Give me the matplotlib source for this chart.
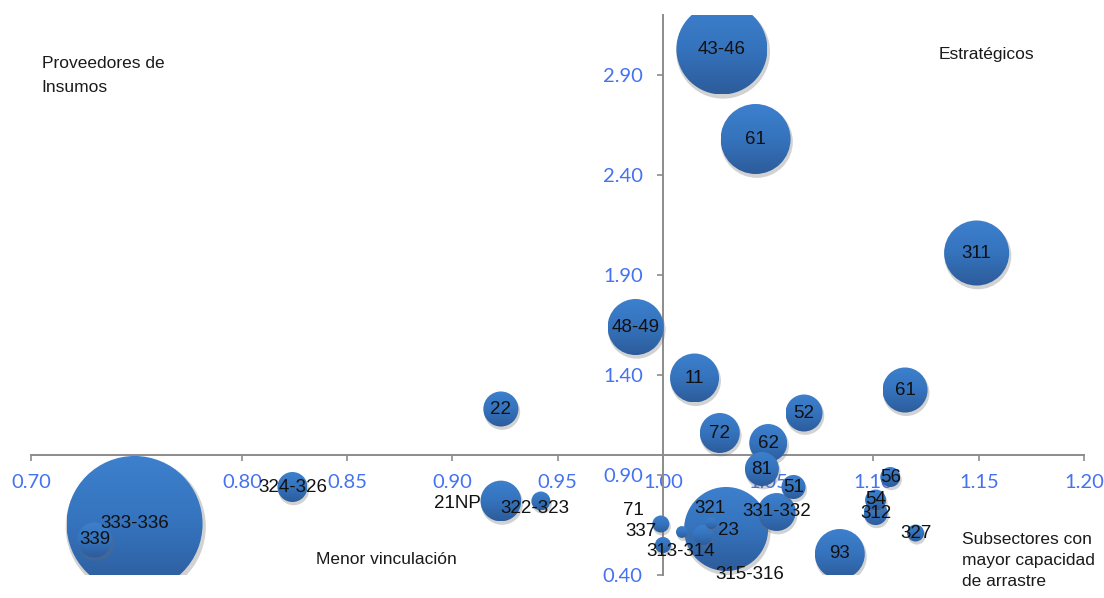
import numpy as np
import matplotlib
matplotlib.use("Agg")
import matplotlib.pyplot as plt
from matplotlib.patches import Ellipse
from matplotlib.colors import LinearSegmentedColormap
from matplotlib import font_manager as fm

# --- data -------------------------------------------------------------
sectores = ["43-46", "61", "311", "61", "48-49", "11", "72", "62", "52", "22",
            "81", "51", "56", "54", "312", "327", "93", "331-332", "315-316",
            "23", "321", "337", "71", "313-314", "333-336", "339", "324-326",
            "21NP", "322-323"]
arrastre = [1.028, 1.044, 1.149, 1.115, 0.987, 1.015, 1.027, 1.050, 1.067, 0.923,
            1.047, 1.062, 1.108, 1.101, 1.101, 1.120, 1.084, 1.054, 1.030,
            1.019, 1.023, 1.009, 0.999, 1.000, 0.749, 0.730, 0.824,
            0.923, 0.942]
impulso = [3.03, 2.58, 2.01, 1.325, 1.64, 1.385, 1.11, 1.06, 1.21, 1.23,
           0.93, 0.84, 0.89, 0.775, 0.71, 0.61, 0.505, 0.715, 0.63,
           0.60, 0.66, 0.615, 0.655, 0.55, 0.655, 0.575, 0.84,
           0.77, 0.77]
peso = [82.8, 49.0, 42.3, 20.3, 31.4, 24.0, 16.0, 14.4, 13.7, 12.3,
        11.6, 5.8, 4.0, 4.4, 5.8, 2.9, 25.0, 14.4, 70.6,
        4.0, 1.4, 1.4, 2.9, 2.6, 185.0, 12.3, 9.0,
        16.6, 3.6]

x_ticks = [0.70, 0.75, 0.80, 0.85, 0.90, 0.95, 1.00, 1.05, 1.10, 1.15, 1.20]
y_ticks = [0.40, 0.90, 1.40, 1.90, 2.40, 2.90]

# label offsets (points) for the labels that sit beside their bubble
label_offsets = {"315-316": (17, -33), "23": (18, 3.5), "321": (-1, 10.5),
                 "337": (-29.5, 0), "71": (-20, 10), "313-314": (13, -5),
                 "21NP": (-31, -2), "322-323": (-4, -5.5)}

# --- fonts ------------------------------------------------------------
def pick_font(names):
    for n in names:
        try:
            fm.findfont(fm.FontProperties(family=n), fallback_to_default=False)
            return n
        except Exception:
            continue
    return "DejaVu Sans"

narrow = pick_font(["Liberation Sans Narrow", "Liberation Sans", "DejaVu Sans"])
is_narrow = narrow == "Liberation Sans Narrow"
lab_size = 15.5 if is_narrow else 13.5
tick_font = pick_font(["Lato", "Open Sans", "DejaVu Sans"])

# --- figure -----------------------------------------------------------
W, H = 1104, 598
fig = plt.figure(figsize=(W / 100, H / 100), dpi=100)
ax = fig.add_axes([31.4 / W, (H - 575) / H, (1084 - 31.4) / W, (575 - 15) / H])
ax.set_xlim(0.70, 1.20)
ax.set_ylim(0.40, 3.20)
ax.set_autoscale_on(False)

# axes cross at (1, 1)
for side in ("top", "right"):
    ax.spines[side].set_visible(False)
ax.spines["left"].set_position(("data", 1.0))
ax.spines["bottom"].set_position(("data", 1.0))
for side in ("left", "bottom"):
    ax.spines[side].set_color("#8c8c8c")
    ax.spines[side].set_linewidth(1.4)

ax.set_xticks(x_ticks)
ax.set_yticks(y_ticks)
ax.set_xticklabels([f"{v:.2f}" for v in x_ticks])
ax.set_yticklabels([f"{v:.2f}" for v in y_ticks])
ax.tick_params(axis="both", direction="out", length=4.5, width=1.2,
               color="#8c8c8c", labelcolor="#4472f0", labelsize=14.5)
ax.tick_params(axis="x", pad=9)
ax.tick_params(axis="y", pad=10)
for t in ax.get_xticklabels() + ax.get_yticklabels():
    t.set_fontfamily(tick_font)

# pixels per data unit, so that bubbles come out round
p0 = ax.transData.transform((0.0, 0.0))
p1 = ax.transData.transform((1.0, 1.0))
px_x, px_y = p1 - p0

# vertical shading of the bubbles (light top, darker bottom)
shade = LinearSegmentedColormap.from_list("shade", ["#2d5c9b", "#3573bd", "#3d80cd"])
grad = np.linspace(0, 1, 64).reshape(-1, 1)

# bubbles: largest drawn first so smaller ones stay on top
order = np.argsort(peso)[::-1]
for k, i in enumerate(order):
    x, y = arrastre[i], impulso[i]
    d_px = np.sqrt(peso[i]) * 10.0
    w, h = d_px / px_x, d_px / px_y
    z = 3 + k * 0.01
    shadow = Ellipse((x + 1.2 / px_x, y - 2.8 / px_y), w * 1.03, h * 1.03,
                     facecolor="#6a6a6a", edgecolor="none", alpha=0.30, zorder=z)
    ax.add_patch(shadow)
    disc = Ellipse((x, y), w, h, facecolor="none", edgecolor="none", zorder=z)
    ax.add_patch(disc)
    im = ax.imshow(grad, cmap=shade, origin="lower", aspect="auto",
                   extent=(x - w / 2, x + w / 2, y - h / 2, y + h / 2),
                   interpolation="bilinear", zorder=z + 0.001)
    im.set_clip_path(disc)

ax.set_xlim(0.70, 1.20)
ax.set_ylim(0.40, 3.20)

for name, x, y in zip(sectores, arrastre, impulso):
    dx, dy = label_offsets.get(name, (0, 0))
    ax.annotate(name, (x, y), xytext=(dx, dy), textcoords="offset points",
                ha="center", va="center", fontsize=lab_size, family=narrow,
                color="#111111", zorder=6, annotation_clip=False)

# quadrant captions
cap = dict(fontsize=14.5 if is_narrow else 12.5, family=narrow, color="#1a1a1a",
           va="center", ha="left")
fig.text(41.5 / W, 1 - 63 / H, "Proveedores de", **cap)
fig.text(41.5 / W, 1 - 87 / H, "Insumos", **cap)
fig.text(939 / W, 1 - 55 / H, "Estratégicos", **cap)
fig.text(316 / W, 1 - 560 / H, "Menor vinculación", **cap)
fig.text(962.5 / W, 1 - 540 / H, "Subsectores con", **cap)
fig.text(962.5 / W, 1 - 561 / H, "mayor capacidad", **cap)
fig.text(962.5 / W, 1 - 582 / H, "de arrastre", **cap)

fig.savefig("out.png", dpi=100)
